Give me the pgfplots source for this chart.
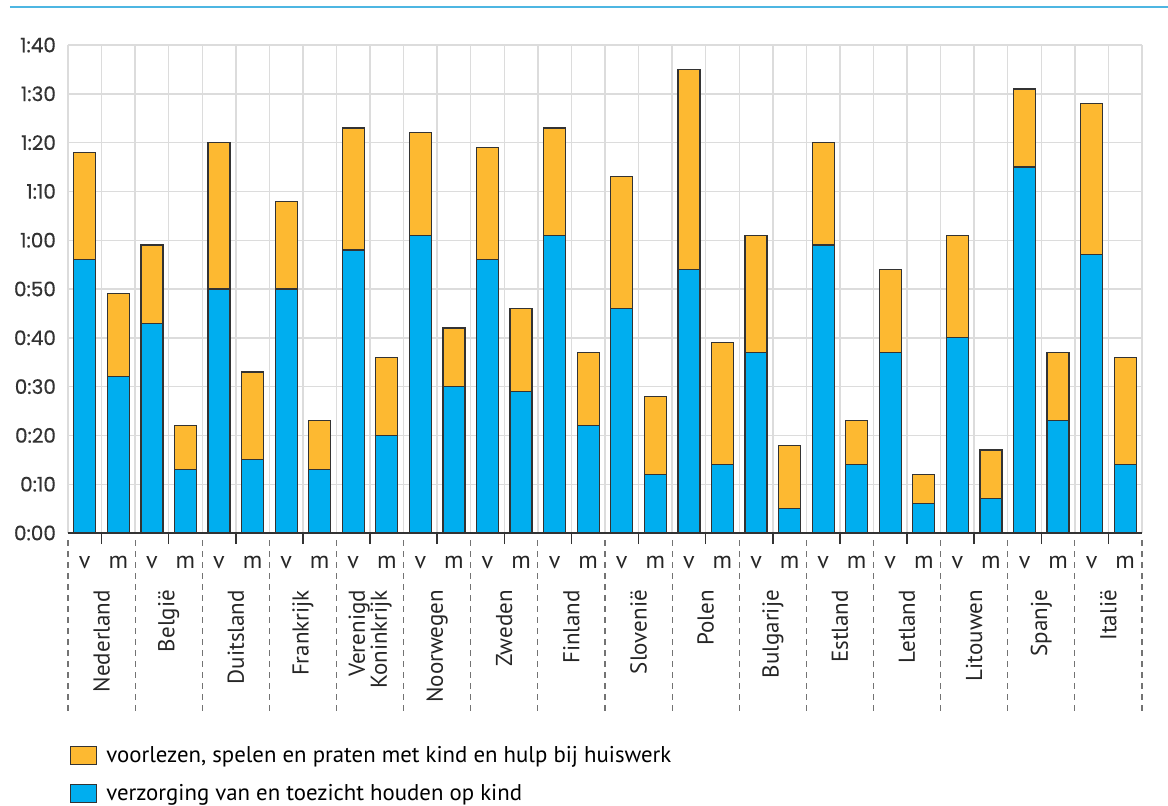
\documentclass[border=0pt]{standalone}
\usepackage{fontspec}
\setmainfont{PT Sans}
\newfontfamily\tickfont[FakeBold=0.4]{Poppins}
\usepackage{pgfplots}
\usepackage{pgfplotstable}
\pgfplotsset{compat=1.18}

\definecolor{zorg}{HTML}{00AEEF}
\definecolor{spel}{HTML}{FDB931}
\definecolor{toprule}{HTML}{4DB6E2}
\definecolor{gridgray}{HTML}{DCDCDC}
\definecolor{txt}{HTML}{333333}

\pgfplotsset{
    boxlegend/.style={
        legend image code/.code={\draw[##1] (0pt,-4.5pt) rectangle (13pt,4.5pt);}
    },
}

% minutes per day; even rows = vrouwen (v), odd rows = mannen (m)
\pgfplotstableread{
x care play
0 56 22
1 32 17
2 43 16
3 13 9
4 50 30
5 15 18
6 50 18
7 13 10
8 58 25
9 20 16
10 61 21
11 30 12
12 56 23
13 29 17
14 61 22
15 22 15
16 46 27
17 12 16
18 54 41
19 14 25
20 37 24
21 5 13
22 59 21
23 14 9
24 37 17
25 6 6
26 40 21
27 7 10
28 75 16
29 23 14
30 57 31
31 14 22
}\tijd

\begin{document}
\begin{tikzpicture}
\begin{axis}[
    name=ax,
    scale only axis,
    width=537pt, height=244pt,
    ybar stacked,
    bar width=11pt,
    xmin=-0.5, xmax=31.5,
    ymin=0, ymax=100,
    clip=false,
    axis x line*=bottom,
    axis y line*=left,
    y axis line style={draw=none},
    x axis line style={txt, line width=1pt, -},
    ytick={0,10,...,100},
    yticklabels={0:00,0:10,0:20,0:30,0:40,0:50,1:00,1:10,1:20,1:30,1:40},
    yticklabel style={font=\tickfont\fontsize{10}{11}\selectfont, text=txt, xshift=-2.5pt},
    ytick style={draw=none},
    ymajorgrids,
    grid style={gridgray, line width=0.7pt},
    minor xtick={-0.5,0.5,...,31.5},
    xminorgrids,
    minor grid style={gridgray, line width=0.7pt},
    minor tick length=0pt,
    tick align=outside,
    xtick={0,...,31},
    xticklabels={v,m,v,m,v,m,v,m,v,m,v,m,v,m,v,m,v,m,v,m,v,m,v,m,v,m,v,m,v,m,v,m},
    xticklabel style={font=\fontsize{12}{12}\selectfont, text=black!85, anchor=north, yshift=-8pt},
    major tick length=0pt,
    extra x ticks={0.5,2.5,...,30.5},
    extra x tick labels={Nederland,België,Duitsland,Frankrijk,{Verenigd\\Koninkrijk},Noorwegen,Zweden,Finland,Slovenië,Polen,Bulgarije,Estland,Letland,Litouwen,Spanje,Italië},
    extra x tick style={
        grid=none,
        major tick length=5.5pt,
        xtick style={txt, line width=0.7pt},
        xticklabel style={yshift=-11.5pt, rotate=90, anchor=east, align=right, font=\fontsize{11.5}{11}\selectfont},
    },
    legend style={
        at={(rel axis cs:-0.004,-0.419)}, anchor=north west,
        draw=none, fill=none,
        font=\fontsize{11.4}{13}\selectfont,
        row sep=5.5pt,
        legend cell align=left,
        nodes={inner xsep=4.5pt},
    },
    reverse legend,
]
\addplot[fill=zorg, draw=black!80, line width=0.6pt, boxlegend]
    table[x=x, y=care] {\tijd};
\addplot[fill=spel, draw=black!80, line width=0.6pt, boxlegend]
    table[x=x, y=play] {\tijd};
\legend{verzorging van en toezicht houden op kind, {voorlezen, spelen en praten met kind en hulp bij huiswerk}}

\pgfplotsinvokeforeach{0,...,16}{
    \draw[black!55, line width=0.6pt, dash pattern=on 3pt off 2.5pt]
        ([yshift=-3.5pt]axis cs:{2*#1-0.5},0) -- ([yshift=-90pt]axis cs:{2*#1-0.5},0);
}
\coordinate (O) at (rel axis cs:0,0);
\end{axis}
\draw[toprule, line width=1.2pt] ([shift={(-29pt,263pt)}]O) -- ([shift={(550pt,263pt)}]O);
\pgfresetboundingbox
\path ([shift={(-34pt,-136pt)}]O) rectangle ([shift={(550pt,266.5pt)}]O);
\end{tikzpicture}
\end{document}
